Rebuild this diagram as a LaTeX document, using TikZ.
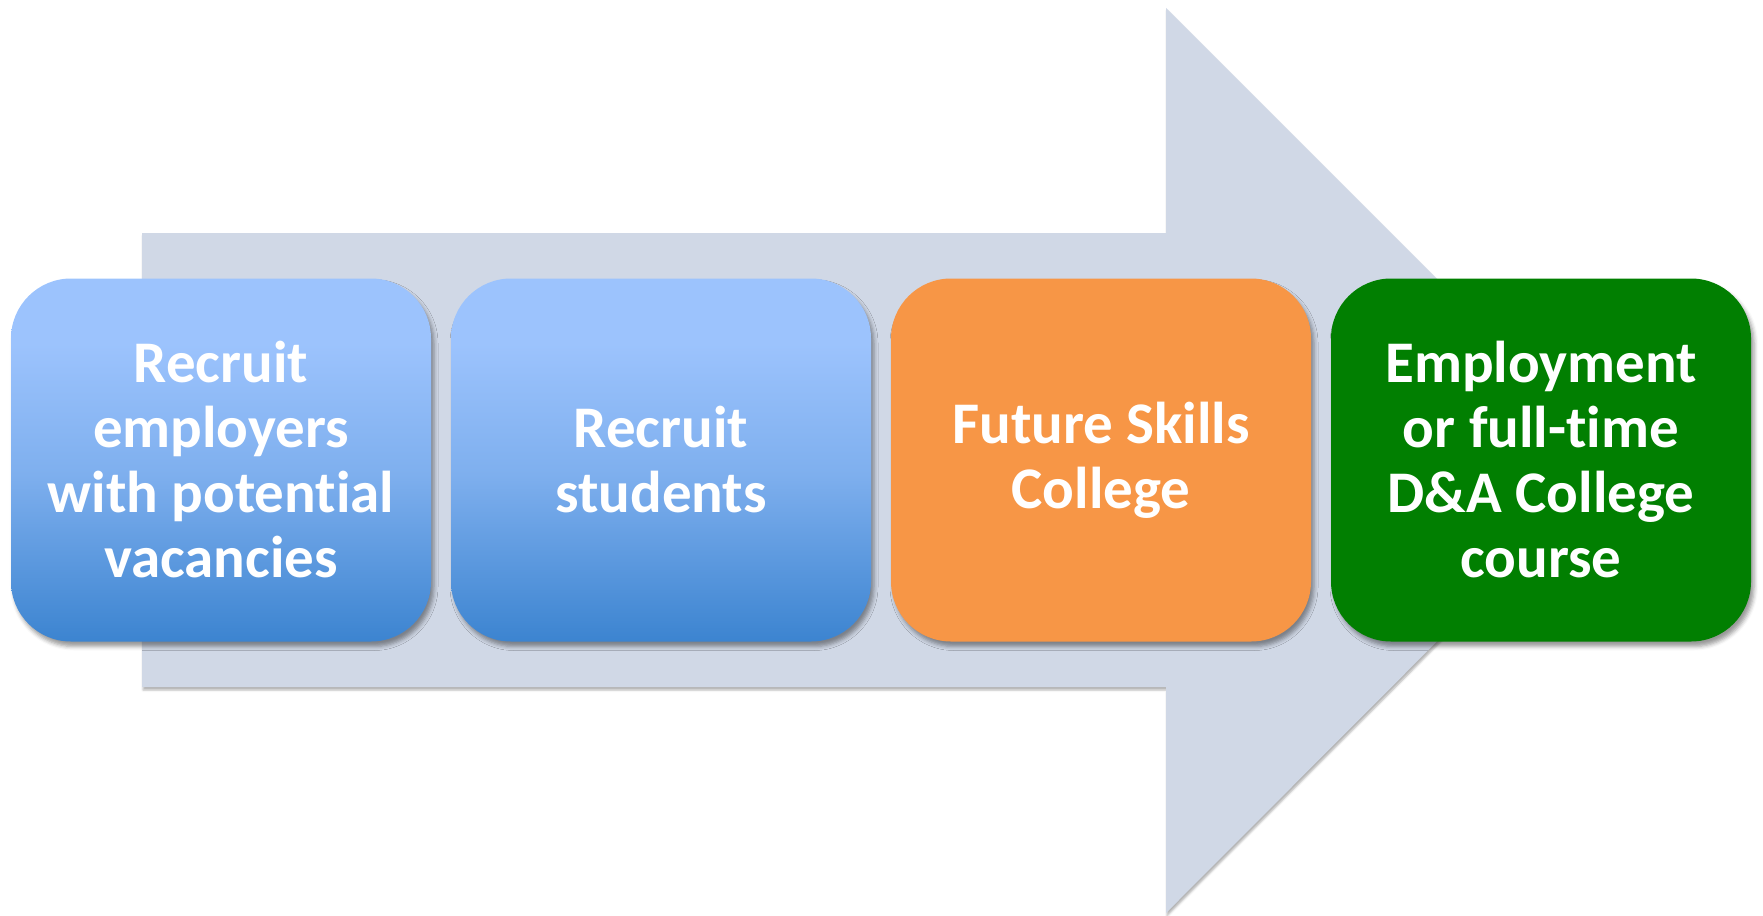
\documentclass[tikz,border=0pt]{standalone}
\usepackage{fontspec}
\setmainfont{Carlito}[Ligatures=NoCommon]
\usetikzlibrary{shadows.blur}
\definecolor{arrowgray}{HTML}{D0D8E6}
\definecolor{bluetop}{HTML}{9CC3FD}
\definecolor{bluemid}{HTML}{7EAFEE}
\definecolor{bluebot}{HTML}{3C84D0}
\definecolor{orangebox}{HTML}{F79646}
\definecolor{greenbox}{HTML}{017F01}
\pgfdeclareverticalshading{bluegrad}{100bp}{color(0bp)=(bluebot); color(25bp)=(bluebot); color(48bp)=(bluemid); color(66bp)=(bluetop); color(100bp)=(bluetop)}
\tikzset{
  stepbox/.style={rounded corners=60pt, minimum width=420pt, minimum height=363pt,
    inner sep=0pt, align=center, text=white,
    font=\fontsize{59}{65}\selectfont\bfseries,
    blur shadow={shadow xshift=3pt, shadow yshift=-5pt, shadow blur radius=4pt, shadow opacity=40}},
  bluebox/.style={stepbox, shading=bluegrad},
  arrowshape/.style={fill=arrowgray, blur shadow={shadow xshift=1pt, shadow yshift=-3pt, shadow blur radius=2pt, shadow opacity=30}}
}
\begin{document}
\begin{tikzpicture}[x=1pt,y=-1pt]
\useasboundingbox (0,0) rectangle (1763,915);
\path[arrowshape] (142,233) -- (1166,233) -- (1166,8) -- (1618,460) -- (1166,913) -- (1166,687) -- (142,687) -- cycle;
\node[bluebox] (b1) at (221,460) {Recruit\\employers\\with potential\\vacancies};
\node[bluebox] (b2) at (661,460) {Recruit\\students};
\node[stepbox, fill=orangebox] (b3) at (1101,460) {Future Skills\\College};
\node[stepbox, fill=greenbox] (b4) at (1541,460) {Employment\\or full-time\\D\&A College\\course};
\end{tikzpicture}
\end{document}
